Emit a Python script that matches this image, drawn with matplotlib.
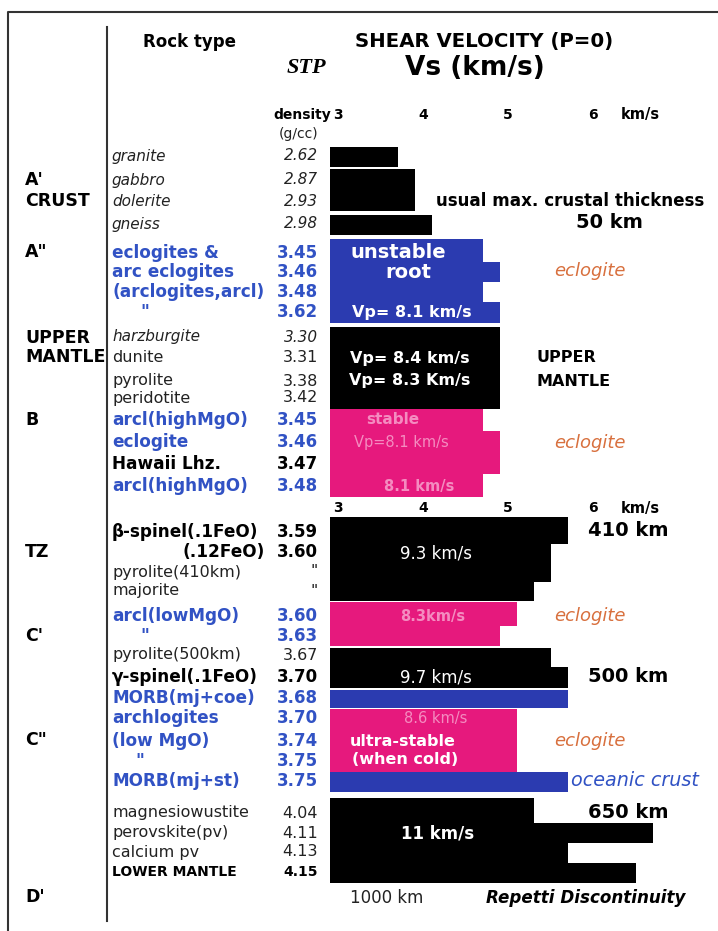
import matplotlib
matplotlib.use("Agg")
from matplotlib import pyplot as plt
from matplotlib.transforms import Affine2D

# colours
BLACK = '#000000'
BLUE = '#2b3bb0'
PINK = '#e6197d'
TXT_BLUE = '#3152c4'
ORANGE = '#d8703e'
GREY = '#222222'
FADED = '#f48cc0'

# bar segments: velocity (km/s) reached by each slice of the velocity column
bar_vs = [3.7, 3.9, 4.1,
          4.7, 4.9, 4.7, 4.9,
          4.9,
          4.7, 4.9, 4.7,
          5.7, 5.5, 5.3,
          5.1, 4.9,
          5.5, 5.7,
          5.7,
          5.1,
          5.7,
          5.3, 6.7, 5.7, 6.5]
bar_kind = ['k', 'k', 'k',
            'b', 'b', 'b', 'b',
            'k',
            'p', 'p', 'p',
            'k', 'k', 'k',
            'p', 'p',
            'k', 'k',
            'b',
            'p',
            'b',
            'k', 'k', 'k', 'k']

# rock names and STP densities
rocks = ['granite', 'gabbro', 'dolerite', 'gneiss',
         'eclogites &', 'arc eclogites', '(arclogites,arcl)', '"',
         'harzburgite', 'dunite', 'pyrolite', 'peridotite',
         'arcl(highMgO)', 'eclogite', 'Hawaii Lhz.', 'arcl(highMgO)',
         'β-spinel(.1FeO)', '(.12FeO)', 'pyrolite(410km)', 'majorite',
         'arcl(lowMgO)', '"', 'pyrolite(500km)', 'γ-spinel(.1FeO)',
         'MORB(mj+coe)', 'archlogites', '(low MgO)', '"', 'MORB(mj+st)',
         'magnesiowustite', 'perovskite(pv)', 'calcium pv', 'LOWER MANTLE']
density = ['2.62', '2.87', '2.93', '2.98',
           '3.45', '3.46', '3.48', '3.62',
           '3.30', '3.31', '3.38', '3.42',
           '3.45', '3.46', '3.47', '3.48',
           '3.59', '3.60', '"', '"',
           '3.60', '3.63', '3.67', '3.70',
           '3.68', '3.70', '3.74', '3.75', '3.75',
           '4.04', '4.11', '4.13', '4.15']
# style of each row: i = italic grey, n = normal, bb = bold blue, bk = bold black
row_style = ['i', 'i', 'i', 'i',
             'bb', 'bb', 'bb', 'bb',
             'i', 'n', 'n', 'n',
             'bb', 'bb', 'bk', 'bb',
             'bk', 'bk', 'n', 'n',
             'bb', 'bb', 'n', 'bk',
             'bb', 'bb', 'bb', 'bb', 'bb',
             'n', 'n', 'n', 'bk']

zones = ["A'", 'CRUST', 'A"', 'UPPER', 'MANTLE', 'B', 'TZ', "C'", 'C"', "D'"]
vs_ticks = [3, 4, 5, 6]

# ---- layout (pixels of the 718 x 931 picture) ----
W, H = 718, 931
bar_top = [147, 169, 215,
           239, 262, 282, 302,
           327,
           409, 431, 474,
           517, 544, 582,
           602, 626,
           648, 667,
           690,
           709,
           772,
           798, 823, 843, 863]
bar_bot = [167, 211, 235,
           262, 282, 302, 323,
           409,
           431, 474, 497,
           544, 582, 601,
           626, 646,
           667, 688,
           708,
           772,
           792,
           823, 843, 863, 883]
row_y = [156, 180, 201, 224,
         253, 272, 292, 312,
         337, 357, 381, 398,
         420, 442, 464, 486,
         532, 552, 572, 591,
         616, 636, 655, 677,
         698, 718, 741, 761, 781,
         813, 833, 852, 872]
zone_y = [180, 201, 252, 338, 357, 420, 552, 636, 740, 897]
V0, PX0, PXV = 3.0, 338, 85.0   # velocity 3 sits at x=338, 85 px per km/s
BASE = 2.9

fig = plt.figure(figsize=(W / 100, H / 100), dpi=100)
ax = fig.add_axes([0, 0, 1, 1])
ax.set_xlim(V0 - PX0 / PXV, V0 + (W - PX0) / PXV)
ax.set_ylim(H, 0)
ax.axis('off')

cmap = {'k': BLACK, 'b': BLUE, 'p': PINK}
for v, k, t, b in zip(bar_vs, bar_kind, bar_top, bar_bot):
    ax.barh((t + b) / 2, v - BASE, height=b - t, left=BASE, color=cmap[k],
            linewidth=0, zorder=2)

pxT = Affine2D().scale(1 / W, -1 / H).translate(0, 1) + fig.transFigure


def txt(x, y, s, **kw):
    kw.setdefault('va', 'center')
    kw.setdefault('fontsize', 11)
    fig.text(x, y, s, transform=pxT, **kw)


# frame and separator
fig.add_artist(plt.Line2D([8, 8, W], [H, 11.5, 11.5], transform=pxT, color='#333333', lw=1.5))
fig.add_artist(plt.Line2D([107, 107], [27, 921], transform=pxT, color='#333333', lw=1.5))

# header
txt(143, 42, 'Rock type', fontweight='bold', fontsize=12)
txt(484, 42, 'SHEAR VELOCITY (P=0)', fontweight='bold', fontsize=14.2, ha='center')
txt(306, 68, 'STP', family='Liberation Serif', style='italic', fontweight='bold', fontsize=16, ha='center')
txt(475, 68, 'Vs (km/s)', fontweight='bold', fontsize=19, ha='center')
txt(331, 115, 'density', fontweight='bold', fontsize=10, ha='right')
txt(299, 134, '(g/cc)', fontsize=10, ha='center', color=GREY)
for tk in vs_ticks:
    ax.text(tk, 115, str(tk), fontweight='bold', fontsize=10, ha='center', va='center')
    ax.text(tk, 508, str(tk), fontweight='bold', fontsize=10, ha='center', va='center')
txt(621, 115, 'km/s', fontweight='bold', fontsize=10.5)
txt(621, 508, 'km/s', fontweight='bold', fontsize=10.5)

# zone labels
for z, y in zip(zones, zone_y):
    txt(25, y, z, fontweight='bold', fontsize=12.5)

# rock rows
for r, d, s, y in zip(rocks, density, row_style, row_y):
    kw = {}
    col = GREY
    fs = 11.5
    if s == 'i':
        kw['style'] = 'italic'
        fs = 11
    elif s == 'bb':
        kw['fontweight'] = 'bold'
        col = TXT_BLUE
        fs = 12.2
    elif s == 'bk':
        kw['fontweight'] = 'bold'
        col = BLACK
        fs = 12.2
    if r == 'LOWER MANTLE':
        fs = 10
    if r == '"':
        txt(140 if y < 700 else 135, y, r, color=col, fontsize=fs, **kw)
    elif r == '(.12FeO)':
        txt(265, y, r, color=col, fontsize=fs, ha='right', **kw)
    else:
        txt(112, y, r, color=col, fontsize=fs, **kw)
    txt(318, y, d, color=col, fontsize=min(fs, 12), ha='right', **kw)

# labels inside the bars
wb = dict(color='white', fontweight='bold')
txt(398, 252, 'unstable', fontsize=14, ha='center', **wb)
txt(408, 272, 'root', fontsize=14, ha='center', **wb)
txt(412, 312, 'Vp= 8.1 km/s', fontsize=11.5, ha='center', **wb)
txt(410, 358, 'Vp= 8.4 km/s', fontsize=11.5, ha='center', **wb)
txt(410, 381, 'Vp= 8.3 Km/s', fontsize=11.5, ha='center', **wb)
txt(393, 420, 'stable', fontsize=11, ha='center', color=FADED, fontweight='bold')
txt(401, 442, 'Vp=8.1 km/s', fontsize=10.5, ha='center', color=FADED)
txt(419, 487, '8.1 km/s', fontsize=10.5, ha='center', color=FADED, fontweight='bold')
txt(436, 554, '9.3 km/s', fontsize=12, ha='center', color='white')
txt(433, 616, '8.3km/s', fontsize=10.5, ha='center', color=FADED, fontweight='bold')
txt(436, 677, '9.7 km/s', fontsize=12, ha='center', color='white')
txt(436, 718, '8.6 km/s', fontsize=10.5, ha='center', color=FADED)
txt(350, 742, 'ultra-stable', fontsize=11.5, color='white', fontweight='bold')
txt(352, 760, '(when cold)', fontsize=11.5, color='white', fontweight='bold')
txt(438, 833, '11 km/s', fontsize=12, ha='center', **wb)

# right-hand notes
txt(436, 201, 'usual max. crustal thickness', fontsize=12.1, fontweight='bold')
txt(609, 223, '50 km', fontsize=14, fontweight='bold', ha='center')
for y in [271, 443, 616, 741]:
    txt(590, y, 'eclogite', fontsize=13, style='italic', color=ORANGE, ha='center')
txt(537, 357, 'UPPER', fontsize=11.5, fontweight='bold')
txt(537, 381, 'MANTLE', fontsize=11.5, fontweight='bold')
txt(588, 531, '410 km', fontsize=14, fontweight='bold')
txt(588, 677, '500 km', fontsize=14, fontweight='bold')
txt(571, 780, 'oceanic crust', fontsize=13.8, style='italic', color=TXT_BLUE)
txt(588, 812, '650 km', fontsize=14, fontweight='bold')
txt(350, 898, '1000 km', fontsize=12, color=GREY)
txt(486, 898, 'Repetti Discontinuity', fontsize=12.1, fontweight='bold', style='italic')

fig.savefig('out.png', dpi=100)
